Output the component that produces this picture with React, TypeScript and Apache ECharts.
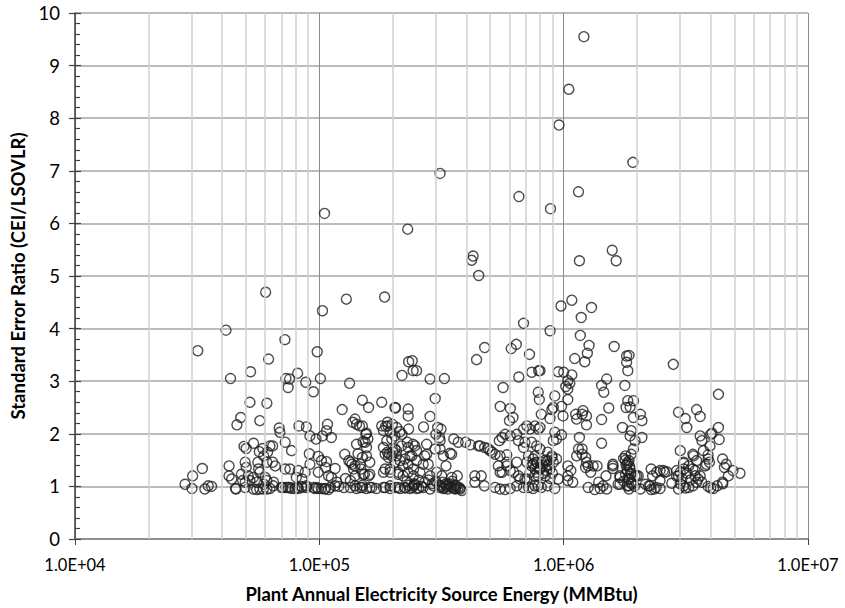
import React, { useEffect, useRef } from "react";
import * as echarts from "echarts";

// Tick values
const xDecades = [10000, 100000, 1000000, 10000000];
const xMinorGridlines = [
  20000, 30000, 40000, 50000, 60000, 70000, 80000, 90000,
  200000, 300000, 400000, 500000, 600000, 700000, 800000, 900000,
  2000000, 3000000, 4000000, 5000000, 6000000, 7000000, 8000000, 9000000,
];
const yTicks = [0, 1, 2, 3, 4, 5, 6, 7, 8, 9, 10];

// [Plant annual electricity source energy (MMBtu), standard error ratio]
const plantsBelow1e5: [number, number][] = [
  [28200, 1.04], [30300, 1.2], [30100, 0.96], [31800, 3.58], [33200, 1.34], [34000, 0.95], [35100, 1.01], [36200, 1.0],
  [41500, 3.97], [43300, 3.05], [42700, 1.39], [42700, 1.2], [43800, 1.14], [45400, 0.96], [46000, 2.17], [47700, 2.31],
  [49200, 1.76], [50200, 1.72], [53800, 1.82], [58700, 1.72], [62800, 1.77], [64400, 1.77], [56800, 1.66], [59200, 1.58], [61400, 1.65],
  [49700, 1.46], [50200, 1.36], [56000, 1.46], [56400, 1.33], [61000, 1.46], [64400, 1.46], [66000, 1.39],
  [48000, 1.23], [51200, 1.2], [53700, 1.17], [57100, 1.27], [60000, 1.17], [55400, 1.08], [59200, 1.04], [61000, 1.11], [65000, 1.08], [49700, 1.08], [52000, 1.11], [48500, 1.11],
  [45600, 0.95], [49700, 0.98], [53700, 0.95], [55400, 0.94], [57100, 0.95], [59000, 0.95], [61000, 0.95], [62800, 0.96], [64800, 1.01], [70000, 0.98], [73000, 0.98], [74500, 0.98],
  [52300, 3.18], [62000, 3.42], [72300, 3.79], [52000, 2.6], [61000, 2.58], [57100, 2.25], [68500, 2.11], [69000, 2.03], [72500, 1.84], [74500, 2.88], [73000, 3.05], [72500, 1.33],
  [98000, 3.56], [81500, 3.15], [75500, 3.04], [88000, 2.98], [94500, 2.8],
  [82500, 2.15], [88500, 2.13], [97000, 1.9], [91500, 1.96], [77000, 1.68], [91000, 1.62],
  [91500, 1.42], [99000, 1.57], [99000, 1.27],
  [75800, 1.33], [82000, 1.3], [87500, 1.27], [80500, 1.17], [85000, 1.14],
  [77000, 0.96], [79500, 0.96], [82000, 0.96], [84500, 1.0], [88500, 1.01], [96000, 0.96], [99000, 0.96],
  [71000, 0.98], [75800, 0.98], [81000, 0.98], [85000, 0.98], [88500, 0.98], [94500, 0.98], [97500, 0.98],
];

const plants1e5to1e6: [number, number][] = [
  [101000, 3.05], [133000, 2.96], [124000, 2.46], [150000, 2.64], [159000, 2.5], [180000, 2.6], [205000, 2.49], [232000, 3.37], [218000, 3.11], [242000, 3.2],
  [108000, 2.18], [140000, 2.28], [142000, 2.18], [150000, 2.15], [156000, 2.01], [103000, 1.96], [112000, 1.93], [107000, 2.06],
  [142000, 1.8], [154000, 1.84], [144000, 1.62], [156000, 1.58],
  [189000, 1.87], [193000, 1.62], [191000, 2.15], [187000, 2.14], [199000, 2.18], [214000, 2.04], [218000, 1.99], [232000, 2.09], [229000, 1.84], [242000, 1.8],
  [102000, 1.49], [107000, 1.47], [106000, 1.36], [116000, 1.34], [109000, 1.2], [112000, 1.17],
  [105000, 0.95], [109000, 0.94], [118000, 1.08], [120000, 1.0],
  [132000, 1.49], [134000, 1.46], [140000, 1.39], [147000, 1.42], [150000, 1.55], [148000, 1.33], [153000, 1.23], [159000, 1.2], [140000, 1.2], [134000, 1.11], [140000, 1.01], [147000, 0.98], [150000, 1.02], [156000, 0.96], [164000, 0.98], [128000, 1.15],
  [198000, 1.9], [204000, 1.71], [217000, 1.77], [231000, 1.74], [239000, 1.58], [186000, 1.61], [192000, 1.55], [204000, 1.46], [214000, 1.49], [220000, 1.39], [231000, 1.42], [243000, 1.33],
  [186000, 1.33], [195000, 1.27], [210000, 1.23], [220000, 1.2], [231000, 1.27], [243000, 1.2],
  [186000, 0.98], [195000, 1.01], [204000, 0.98], [214000, 0.96], [224000, 0.98], [235000, 0.96], [243000, 1.01],
  [102000, 0.96], [106000, 0.96], [111000, 0.98], [116000, 1.01], [126000, 0.98], [134000, 0.98], [142000, 0.96], [150000, 0.98], [161000, 0.98], [171000, 0.96], [183000, 0.98], [195000, 0.96], [210000, 0.98],
  [137000, 2.22], [146000, 2.15], [155000, 1.99], [158000, 1.9], [151000, 1.85], [156000, 1.74], [161000, 1.46], [136000, 1.42], [127000, 1.61],
  [180000, 2.15], [190000, 2.22], [183000, 2.06], [195000, 2.03], [204000, 1.96], [207000, 2.12],
  [183000, 1.74], [190000, 1.65], [198000, 1.58], [207000, 1.68],
  [138000, 1.33], [151000, 1.23], [161000, 1.23], [183000, 1.27], [195000, 1.33], [210000, 1.27],
  [204000, 2.5], [231000, 2.47], [231000, 2.34],
  [343000, 1.63], [312000, 1.71], [312000, 1.87], [275000, 1.8], [270000, 1.58], [250000, 1.68], [224000, 1.52], [207000, 1.58], [200000, 1.65],
  [440000, 3.41], [475000, 3.64], [610000, 3.62], [640000, 3.7], [725000, 3.51], [655000, 3.08], [740000, 3.17], [790000, 3.2], [565000, 2.88], [240000, 3.39], [250000, 3.2], [284000, 3.04], [325000, 3.05], [298000, 2.67], [284000, 2.33],
  [550000, 2.52], [605000, 2.48], [620000, 2.31], [600000, 2.25], [267000, 2.13], [305000, 2.12], [315000, 2.09], [300000, 1.99], [310000, 1.93],
  [355000, 1.9], [370000, 1.84], [397000, 1.84], [415000, 1.79], [455000, 1.77], [490000, 1.72], [510000, 1.65], [545000, 1.87], [560000, 1.93],
  [576000, 1.99], [604000, 1.96], [643000, 1.99], [685000, 2.09], [707000, 2.15], [728000, 2.09], [763000, 2.15], [787000, 2.09], [653000, 1.87], [694000, 1.84], [739000, 1.84], [775000, 1.77],
  [246000, 1.77], [275000, 1.61], [235000, 1.58], [250000, 1.49], [266000, 1.42], [279000, 1.42], [298000, 1.71], [322000, 1.58], [348000, 1.61],
  [258000, 1.27], [284000, 1.2], [302000, 1.27], [317000, 1.2], [330000, 1.39], [348000, 1.17], [367000, 1.2],
  [540000, 1.39], [585000, 1.46], [585000, 1.6], [643000, 1.46], [653000, 1.2], [549000, 1.27], [604000, 1.3], [433000, 1.2], [460000, 1.2], [433000, 1.08], [474000, 1.01],
  [250000, 0.96], [266000, 0.98], [284000, 0.95], [293000, 1.01], [312000, 0.98], [322000, 0.96], [333000, 1.01], [348000, 0.98], [360000, 0.96], [377000, 0.95], [383000, 0.92],
  [524000, 0.98], [549000, 0.95], [576000, 0.94], [604000, 0.96], [643000, 1.01], [685000, 0.98], [718000, 0.98], [750000, 0.96], [787000, 1.01],
  [290000, 1.05], [300000, 1.1], [310000, 1.02], [320000, 1.08], [330000, 1.0], [340000, 1.05], [350000, 1.1], [360000, 1.02], [370000, 0.98], [280000, 1.12], [245000, 1.05], [255000, 1.12], [270000, 1.08], [228000, 1.1],
  [685000, 1.74], [718000, 1.58], [750000, 1.52], [707000, 1.46], [739000, 1.39], [775000, 1.46], [763000, 1.33], [728000, 1.27], [787000, 1.2], [694000, 1.14],
  [880000, 3.96], [800000, 3.2], [950000, 3.18],
  [787000, 2.79], [795000, 2.65], [920000, 2.72], [907000, 2.5], [980000, 2.52], [895000, 2.46], [810000, 2.37], [879000, 2.29], [994000, 2.34],
  [920000, 2.03], [980000, 1.98], [935000, 1.9], [907000, 1.87], [800000, 2.12], [763000, 1.58],
  [763000, 1.01], [810000, 0.98], [860000, 1.01], [920000, 0.96],
  [840000, 1.2], [895000, 1.55], [879000, 1.33], [950000, 1.14], [810000, 1.46], [860000, 1.49],
  [820000, 1.4], [850000, 1.3], [830000, 1.25], [870000, 1.42], [800000, 1.35], [780000, 1.45], [900000, 1.25], [840000, 1.5], [760000, 1.2], [880000, 1.15],
  [315000, 1.0], [325000, 0.97], [335000, 0.95], [345000, 1.0], [355000, 0.97], [365000, 1.0], [375000, 0.97], [340000, 1.03], [360000, 0.95], [330000, 1.05],
  [225000, 0.97], [232000, 1.02], [240000, 0.98], [245000, 1.03], [255000, 0.97], [262000, 1.0],
  [448000, 1.77], [475000, 1.74], [500000, 1.68], [524000, 1.61], [549000, 1.58], [585000, 1.39], [560000, 1.27], [625000, 1.27], [663000, 1.14], [707000, 1.14],
  [750000, 1.42], [775000, 1.27], [800000, 1.33], [860000, 1.39], [907000, 1.46], [935000, 1.52], [895000, 1.58], [860000, 1.65], [800000, 1.71],
];

const plantsAbove1e6: [number, number][] = [
  [1170000, 3.87], [1270000, 3.68], [1250000, 3.53], [1220000, 3.37], [1110000, 3.43], [1610000, 3.66], [1810000, 3.48], [1850000, 3.49], [1810000, 3.36], [1830000, 3.2], [1780000, 2.92],
  [1000000, 3.17], [1080000, 3.12], [1040000, 3.01], [1020000, 2.9], [1060000, 2.96], [1500000, 3.04], [1430000, 2.92], [1460000, 2.79],
  [1040000, 2.65], [1040000, 2.85], [1120000, 2.37],
  [1530000, 2.49], [1430000, 2.27], [1830000, 2.63], [1930000, 2.63], [1870000, 2.51], [1800000, 2.5],
  [1200000, 2.44], [1190000, 2.37], [1240000, 2.34], [1240000, 2.17], [1130000, 2.28], [1160000, 1.93], [1430000, 1.82],
  [2060000, 2.37], [2090000, 2.25], [1930000, 2.31], [1740000, 2.12], [1890000, 2.06], [1870000, 1.96], [2090000, 1.93], [1960000, 1.87],
  [1150000, 1.71], [1190000, 1.61], [1230000, 1.55], [1130000, 1.58], [1240000, 1.46], [1260000, 1.39], [1370000, 1.39], [1490000, 1.2], [1590000, 1.39], [1590000, 1.34],
  [1040000, 1.39], [1070000, 1.3], [1040000, 1.2], [1090000, 1.08], [1040000, 1.11],
  [1790000, 1.58], [1850000, 1.49], [1820000, 1.42], [1890000, 1.61], [1930000, 1.71], [1870000, 1.33], [1790000, 1.23], [1960000, 1.2], [2020000, 1.2], [1700000, 1.17], [1670000, 1.04], [1850000, 1.01], [1890000, 1.08],
  [1260000, 0.98], [1340000, 0.94], [1410000, 0.96], [1450000, 1.01], [1500000, 0.95], [1850000, 0.95],
  [2280000, 1.33], [2310000, 1.2], [2260000, 1.01], [2350000, 0.95], [2480000, 0.96], [2560000, 1.3], [2160000, 1.04], [2060000, 0.95],
  [1800000, 1.4], [1830000, 1.45], [1860000, 1.38], [1790000, 1.5], [1820000, 1.3], [1880000, 1.25], [1760000, 1.1], [1840000, 1.15], [1900000, 1.05], [1950000, 1.0],
  [1390000, 1.08], [1320000, 1.39], [1190000, 1.71], [1230000, 1.36], [1290000, 1.27],
  [1590000, 1.42], [1700000, 1.2], [1760000, 1.53], [1850000, 1.14], [1820000, 1.01], [1700000, 1.04], [1890000, 1.23], [1990000, 1.2],
  [2810000, 3.32], [4300000, 2.75],
  [2950000, 2.41], [3140000, 2.29], [3190000, 2.12], [3500000, 2.46], [3620000, 2.33],
  [4300000, 2.12], [4050000, 2.01], [4000000, 1.99], [3620000, 1.96], [3680000, 1.87], [3970000, 1.77], [4330000, 1.89],
  [3000000, 1.68], [3380000, 1.61], [3730000, 1.68], [3900000, 1.6], [3500000, 1.49], [3840000, 1.42], [3100000, 1.46], [3250000, 1.39],
  [4470000, 1.52], [4630000, 1.42], [4550000, 1.36], [4930000, 1.3], [5270000, 1.25], [4720000, 1.2], [4470000, 1.08],
  [2590000, 1.27], [2480000, 1.11], [2770000, 1.06], [2950000, 0.95], [3100000, 1.01], [3250000, 0.98], [3380000, 1.01], [3620000, 1.2], [3680000, 1.08], [3900000, 1.0], [4100000, 0.96],
  [2950000, 1.2], [3100000, 1.33], [3380000, 1.33],
  [3050000, 1.15], [3200000, 1.25], [3300000, 1.12], [2900000, 1.3], [3450000, 1.2], [3150000, 0.97], [3000000, 1.05],
  [2400000, 1.27], [2480000, 1.3], [2640000, 1.28], [2230000, 1.01], [2280000, 0.94], [2390000, 0.98], [2900000, 1.19], [3000000, 1.27], [3100000, 1.44],
  [3400000, 1.58], [3450000, 1.3], [3550000, 1.14], [3500000, 1.08], [3900000, 1.52], [3800000, 1.39], [3950000, 1.46],
  [4250000, 1.01], [4000000, 0.97], [4480000, 1.05],
];

const highRatioPlants: [number, number][] = [
  [1210000, 9.55], [1050000, 8.55], [957000, 7.87], [1920000, 7.16], [312000, 6.95], [1150000, 6.6], [656000, 6.51], [883000, 6.28],
  [105000, 6.19], [230000, 5.89], [426000, 5.38], [420000, 5.3], [449000, 5.01], [1160000, 5.29], [1580000, 5.49], [1640000, 5.29],
  [60300, 4.69], [103000, 4.34], [129000, 4.56], [185000, 4.6], [1080000, 4.54], [975000, 4.43], [1300000, 4.4], [1180000, 4.21], [685000, 4.1],
];

const allPlants = [...plantsBelow1e5, ...plants1e5to1e6, ...plantsAbove1e6, ...highRatioPlants];

const FONT = "Lato, 'Open Sans', sans-serif";

function formatSci(v: number): string {
  const e = Math.round(Math.log10(v));
  return "1.0E+" + (e < 10 ? "0" + e : String(e));
}

export default function App() {
  const ref = useRef<HTMLDivElement>(null);

  useEffect(() => {
    if (!ref.current) return;
    const chart = echarts.init(ref.current, undefined, { renderer: "svg" });
    const yBase = {
      type: "value",
      min: yTicks[0],
      max: yTicks[yTicks.length - 1],
      interval: 1,
      position: "left",
    };
    chart.setOption({
      animation: false,
      backgroundColor: "#ffffff",
      grid: { left: 75, top: 13, width: 733, height: 527, containLabel: false },
      xAxis: {
        type: "log",
        logBase: 10,
        min: xDecades[0],
        max: xDecades[xDecades.length - 1],
        axisLine: { show: true, lineStyle: { color: "#808080", width: 1.5 } },
        axisTick: { show: true, inside: false, length: 6, lineStyle: { color: "#404040", width: 1 } },
        axisLabel: { formatter: formatSci, color: "#000", fontSize: 16.5, fontFamily: FONT, margin: 17 },
        splitLine: { show: true, lineStyle: { color: "#8c8c8c", width: 1 } },
        name: "Plant Annual Electricity Source Energy (MMBtu)",
        nameLocation: "middle",
        nameGap: 45,
        nameTextStyle: { color: "#000", fontSize: 18.5, fontWeight: "bold", fontFamily: FONT },
      },
      yAxis: [
        {
          ...yBase,
          axisLine: { show: true, lineStyle: { color: "#404040", width: 1.5 } },
          axisTick: { show: true, inside: true, length: 6, lineStyle: { color: "#404040", width: 1.2 } },
          minorTick: { show: true, splitNumber: 5, length: 5, lineStyle: { color: "#404040", width: 1.2 } },
          axisLabel: { color: "#000", fontSize: 18.5, fontFamily: FONT, margin: 15 },
          splitLine: { show: true, lineStyle: { color: "#a6a6a6", width: 1.5 } },
          name: "Standard Error Ratio (CEI/LSOVLR)",
          nameLocation: "middle",
          nameGap: 44,
          nameTextStyle: { color: "#000", fontSize: 18.5, fontWeight: "bold", fontFamily: FONT },
        },
        {
          ...yBase,
          axisLine: { show: false },
          axisTick: { show: true, inside: false, length: 6, lineStyle: { color: "#404040", width: 1.2 } },
          axisLabel: { show: false },
          splitLine: { show: false },
        },
      ],
      series: [
        {
          type: "scatter",
          data: [],
          silent: true,
          z: 1,
          markLine: {
            silent: true,
            symbol: ["none", "none"],
            label: { show: false },
            lineStyle: { color: "#d0d0d0", width: 1.5, type: "solid" },
            emphasis: { disabled: true },
            data: xMinorGridlines.map((v) => ({ xAxis: v })),
          },
        },
        {
          type: "scatter",
          data: allPlants,
          z: 3,
          progressive: 0,
          symbol: "circle",
          symbolSize: 10,
          itemStyle: { color: "rgba(255,255,255,0)", borderColor: "#1f1f1f", borderWidth: 1.4 },
        },
      ],
    });
    return () => chart.dispose();
  }, []);

  return (
    <div
      ref={ref}
      style={{ position: "absolute", left: 0, top: 0, width: 845, height: 608, background: "#fff" }}
    />
  );
}
